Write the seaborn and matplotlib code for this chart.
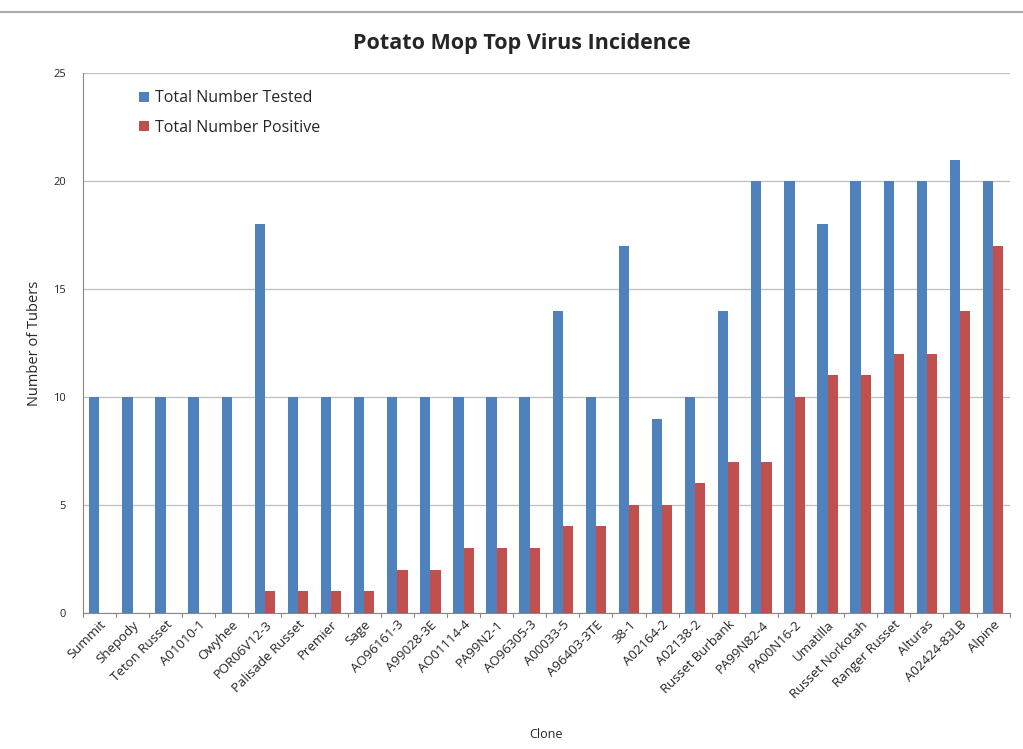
import pandas as pd
import matplotlib
matplotlib.use('Agg')
import matplotlib.pyplot as plt
from matplotlib.lines import Line2D
import seaborn as sns

clones = ['Summit', 'Shepody', 'Teton Russet', 'A01010-1', 'Owyhee', 'POR06V12-3',
          'Palisade Russet', 'Premier', 'Sage', 'AO96161-3', 'A99028-3E', 'AO01114-4',
          'PA99N2-1', 'AO96305-3', 'A00033-5', 'A96403-3TE', '38-1', 'A02164-2',
          'A02138-2', 'Russet Burbank', 'PA99N82-4', 'PA00N16-2', 'Umatilla',
          'Russet Norkotah', 'Ranger Russet', 'Alturas', 'A02424-83LB', 'Alpine']
tested = [10, 10, 10, 10, 10, 18, 10, 10, 10, 10, 10, 10, 10, 10, 14, 10, 17, 9,
          10, 14, 20, 20, 18, 20, 20, 20, 21, 20]
positive = [0, 0, 0, 0, 0, 1, 1, 1, 1, 2, 2, 3, 3, 3, 4, 4, 5, 5, 6, 7, 7, 10, 11,
            11, 12, 12, 14, 17]
series = ['Total Number Tested', 'Total Number Positive']

df = pd.DataFrame({
    'Clone': clones * 2,
    'Count': tested + positive,
    'Series': [series[0]] * len(clones) + [series[1]] * len(clones),
})

sns.set_style('white')
plt.rcParams['font.family'] = ['Open Sans', 'DejaVu Sans']

fig = plt.figure(figsize=(10.23, 7.49), dpi=100)
ax = fig.add_axes([0.081, 0.182, 0.906, 0.72])

ax.yaxis.grid(True, color='#bfbfbf', linewidth=0.9, zorder=0)
ax.set_axisbelow(True)
sns.barplot(data=df, x='Clone', y='Count', hue='Series', order=clones,
            hue_order=series, palette=['#4f81bd', '#c0504d'], width=0.62, gap=0,
            saturation=1, linewidth=0, ax=ax, zorder=3)

ax.set_ylim(0, 25)
ax.set_yticks(range(0, 26, 5))
ax.set_xlim(-0.5, len(clones) - 0.5)
ax.tick_params(axis='y', labelsize=8, length=0, pad=12)
ax.tick_params(axis='x', labelsize=9.5, length=0, pad=4)
plt.setp(ax.get_xticklabels(), rotation=45, ha='right', rotation_mode='anchor')

# category separator ticks like the original
for i in range(len(clones) + 1):
    ax.plot([i - 0.5, i - 0.5], [0, -0.2], color='#888888', lw=0.8, clip_on=False)

for s in ['top', 'right']:
    ax.spines[s].set_visible(False)
ax.spines['left'].set_color('#888888')
ax.spines['bottom'].set_color('#888888')

ax.set_xlabel('Clone', fontsize=9, labelpad=20)
ax.set_ylabel('Number of Tubers', fontsize=10.5, labelpad=8)
fig.text(0.51, 0.942, 'Potato Mop Top Virus Incidence', fontsize=15.5,
         fontweight='bold', ha='center', va='center')

leg = ax.legend(loc='upper left', bbox_to_anchor=(0.045, 0.995), frameon=False,
                fontsize=11.5, handlelength=0.6, handleheight=0.6, labelspacing=0.85,
                handletextpad=0.4)

fig.add_artist(Line2D([0, 1], [0.984, 0.984], color='#aaaaaa', lw=1.5))

plt.savefig('out.png', dpi=100)
